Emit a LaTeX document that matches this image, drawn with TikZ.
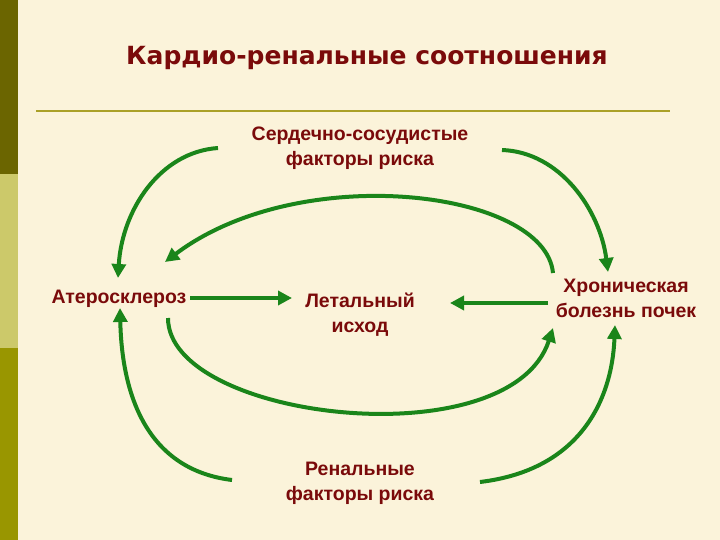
\documentclass[tikz,border=0pt]{standalone}
\usepackage{fontspec}
\setmainfont{Liberation Sans}
\newfontfamily\titlefont{DejaVu Sans}
\usetikzlibrary{arrows.meta}
\definecolor{bg}{HTML}{FBF3DA}
\definecolor{txt}{HTML}{7A0A0A}
\definecolor{gr}{HTML}{1A851A}
\definecolor{s1}{HTML}{6B6500}
\definecolor{s2}{HTML}{CCC96A}
\definecolor{s3}{HTML}{999600}
\definecolor{ln}{HTML}{AAA028}
\begin{document}
\begin{tikzpicture}[x=1pt,y=-1pt,
  lbl/.style={text=txt,font=\bfseries\fontsize{19.5}{25}\selectfont,align=center,inner sep=0pt},
  arr/.style={draw=gr,line width=4pt,-{Triangle[length=14pt,width=14pt]}}]
\fill[bg] (0,0) rectangle (720,540);
\useasboundingbox (0,0) rectangle (720,540);
\fill[s1] (0,0) rectangle (18,174);
\fill[s2] (0,174) rectangle (18,348);
\fill[s3] (0,348) rectangle (18,540);
\node[text=txt,font=\titlefont\bfseries\fontsize{25}{30}\selectfont] (title) at (367,58) {Кардио-ренальные соотношения};
\draw[ln,line width=1.5pt] (36,111) -- (670,111);
\node[lbl] (cv) at (360,148) {Сердечно-сосудистые\\факторы риска};
\node[lbl] (ath) at (119,299) {Атеросклероз};
\node[lbl] (let) at (360,315) {Летальный\\исход};
\node[lbl] (ckd) at (626,298) {Хроническая\\болезнь почек};
\node[lbl] (ren) at (360,483) {Ренальные\\факторы риска};
\coordinate (a1) at (218,148); \coordinate (a1e) at (118,278);
\coordinate (a2) at (502,150); \coordinate (a2e) at (608,272);
\coordinate (a3) at (553,273); \coordinate (a3e) at (165,262);
\coordinate (a4) at (190,298); \coordinate (a4e) at (292,298);
\coordinate (a5) at (548,303); \coordinate (a5e) at (450,303);
\coordinate (a6) at (168,318); \coordinate (a6e) at (553,328);
\coordinate (a7) at (232,480); \coordinate (a7e) at (120,308);
\coordinate (a8) at (480,482); \coordinate (a8e) at (615,325);
\draw[arr] (a1) .. controls (160,152) and (122,210) .. (a1e);
\draw[arr] (a2) .. controls (560,152) and (600,210) .. (a2e);
\draw[arr] (a3) .. controls (545,190) and (300,160) .. (a3e);
\draw[arr] (a4) -- (a4e);
\draw[arr] (a5) -- (a5e);
\draw[arr] (a6) .. controls (168,420) and (510,460) .. (a6e);
\draw[arr] (a7) .. controls (150,470) and (122,400) .. (a7e);
\draw[arr] (a8) .. controls (580,470) and (612,400) .. (a8e);
\end{tikzpicture}
\end{document}
